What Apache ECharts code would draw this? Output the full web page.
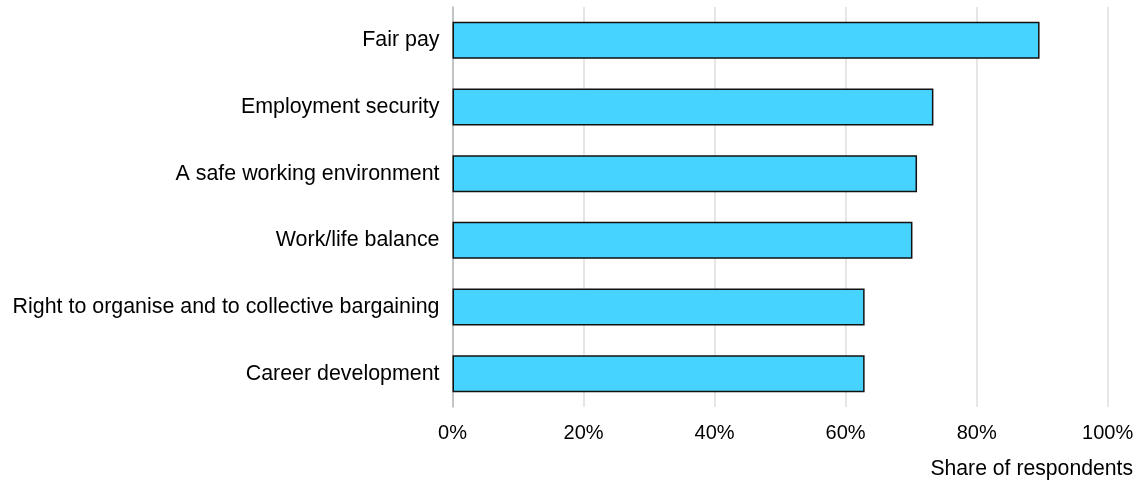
<!DOCTYPE html>
<html>
<head>
<meta charset="utf-8">
<script src="https://cdn.jsdelivr.net/npm/echarts@6/dist/echarts.min.js"></script>
<style>
  html, body { margin: 0; padding: 0; background: #fff; }
  #chart { width: 1142px; height: 483px; }
</style>
</head>
<body>
<div id="chart"></div>
<script>
// Workplace priorities, top to bottom
const categories = [
  'Fair pay',
  'Employment security',
  'A safe working environment',
  'Work/life balance',
  'Right to organise and to collective bargaining',
  'Career development'
];
// Share of respondents, in percent
const shares = [89.6, 73.4, 70.9, 70.2, 62.9, 62.9];
const xTicks = [0, 20, 40, 60, 80, 100];
const axisTitle = 'Share of respondents';

const FONT = '"Liberation Sans", Arial, sans-serif';
const chart = echarts.init(document.getElementById('chart'), null, { renderer: 'canvas' });

chart.setOption({
  animation: false,
  backgroundColor: '#ffffff',
  grid: { left: 452.5, right: 34.3, top: 7, bottom: 76, containLabel: false },
  xAxis: {
    type: 'value',
    min: xTicks[0],
    max: xTicks[xTicks.length - 1],
    interval: xTicks[1] - xTicks[0],
    axisLine: { show: false },
    axisTick: { show: false },
    splitLine: { show: true, lineStyle: { color: '#dedede', width: 1.5 } },
    axisLabel: {
      formatter: '{value}%',
      color: '#000',
      fontFamily: FONT,
      fontSize: 20,
      margin: 16
    }
  },
  yAxis: {
    type: 'category',
    data: categories,
    inverse: true,
    axisLine: { show: true, lineStyle: { color: '#b8b8b8', width: 1.5 } },
    axisTick: { show: false },
    axisLabel: {
      color: '#000',
      fontFamily: FONT,
      fontSize: 21.4,
      margin: 13
    }
  },
  graphic: [{
    type: 'text',
    right: 9,
    top: 459,
    style: {
      text: axisTitle,
      fill: '#000',
      font: '21.2px ' + FONT
    }
  }],
  series: [{
    type: 'bar',
    data: shares,
    barWidth: 37,
    itemStyle: {
      color: '#47d3ff',
      borderColor: '#111',
      borderWidth: 1.5
    }
  }]
});
</script>
</body>
</html>
